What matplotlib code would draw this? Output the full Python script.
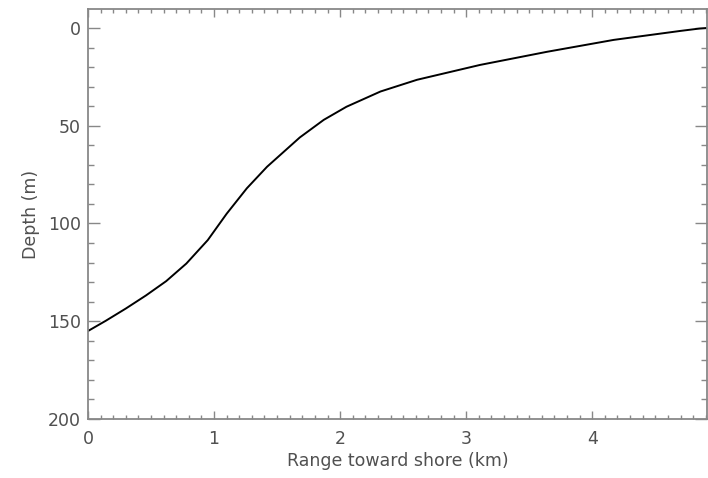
import matplotlib
matplotlib.use("Agg")
import matplotlib.pyplot as plt
from matplotlib.ticker import MultipleLocator

# depth profile
range_km = [0.0, 0.14, 0.30, 0.46, 0.62, 0.78, 0.95, 1.10, 1.26, 1.42,
            1.55, 1.68, 1.87, 2.05, 2.32, 2.61, 3.11, 3.64, 4.17, 4.70,
            4.85, 4.91]
depth_m = [155, 149.8, 143.5, 136.8, 129.5, 120.5, 108.5, 95, 82, 71,
           63.5, 56, 47, 40.3, 32.5, 26.5, 18.9, 12.2, 6.1, 1.5,
           0.3, 0]

plt.rcParams['font.family'] = ['DejaVu Sans']
txt = '#505050'
axc = '#888888'

fig = plt.figure(figsize=(7.08, 4.78), dpi=100)
ax = fig.add_axes([88/708, 59/478, 619/708, 410/478])

ax.plot(range_km, depth_m, color='black', lw=1.4)

ax.set_xlim(0, 4.91)
ax.set_ylim(200, -9.7)

ax.xaxis.set_major_locator(MultipleLocator(1))
ax.xaxis.set_minor_locator(MultipleLocator(0.1))
ax.yaxis.set_major_locator(MultipleLocator(50))
ax.yaxis.set_minor_locator(MultipleLocator(10))

for s in ax.spines.values():
    s.set_color(axc)
    s.set_linewidth(1.3)

ax.tick_params(axis='both', which='both', direction='in', top=True, right=True,
               colors=axc, labelcolor=txt, labelsize=12.5)
ax.tick_params(axis='x', which='major', length=5.8, width=1, pad=8)
ax.tick_params(axis='x', which='minor', length=2.9, width=1)
ax.tick_params(axis='y', which='major', length=8.6, width=1, pad=5)
ax.tick_params(axis='y', which='minor', length=4.3, width=1)

ax.set_xlabel('Range toward shore (km)', fontsize=12.5, color=txt, labelpad=3)
ax.set_ylabel('Depth (m)', fontsize=12.5, color=txt, labelpad=6)

fig.savefig('out.png', dpi=100)
